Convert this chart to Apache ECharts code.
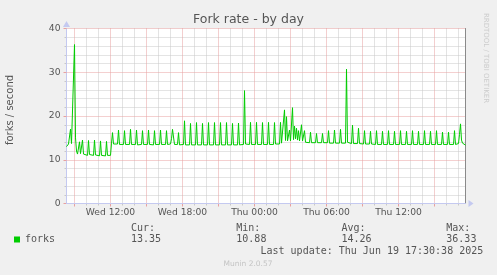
<!DOCTYPE html>
<html>
<head>
<meta charset="utf-8">
<script src="https://cdn.jsdelivr.net/npm/echarts@6/dist/echarts.min.js"></script>
<style>
html,body{margin:0;padding:0;background:#f0f0f0;}
#chart{width:497px;height:275px;}
</style>
</head>
<body>
<div id="chart"></div>
<script>
// Time in minutes since Wed 00:00 (5-minute samples), values in forks/second
const sampleMinutes = [
  500,505,510,515,520,525,530,535,540,545,550,555,560,565,570,575,580,585,595,
  605,610,615,625,635,640,645,655,665,670,675,685,695,700,705,715,720,725,730,735,740,745,
  755,760,765, 785,790,795, 815,820,825, 845,850,855, 875,880,885, 905,910,915,
  935,940,945, 965,970,975, 995,1000,1005, 1020,1025,1030,1035,1040, 1055,1060,1065,
  1085,1090,1095, 1115,1120,1125, 1145,1150,1155, 1175,1180,1185, 1205,1210,1215,
  1235,1240,1245, 1265,1270,1275, 1295,1300,1305, 1325,1330,1335, 1355,1360,1365,
  1385,1390,1395, 1415,1420,1425, 1445,1450,1455, 1475,1480,1485, 1505,1510,1515,
  1535,1540,1545, 1565,1570,1575,
  1580,1585,1590,1595,1600,1605,1610,1615,1620,1625,1630,1635,1640,1645,1650,1655,
  1660,1665,1670,1675,1680,1685,1690,1695,
  1715,1720,1725, 1745,1750,1755, 1775,1780,1785, 1805,1810,1815, 1835,1840,1845,
  1865,1870,1875, 1895,1900,1905, 1925,1930,1935, 1955,1960,1965, 1985,1990,1995,
  2015,2020,2025, 2045,2050,2055, 2075,2080,2085, 2105,2110,2115, 2135,2140,2145,
  2165,2170,2175, 2195,2200,2205, 2225,2230,2235, 2255,2260,2265, 2285,2290,2295,
  2315,2320,2325, 2345,2350,2355, 2375,2380,2385, 2405,2410,2415, 2435,2440,2445,
  2460,2465,2470,2475,2480, 2490,2495
];
const forksPerSecond = [
  13.0,13.1,13.6,13.7,17.0,13.7,13.5,14.0,36.33,15.0,12.0,11.3,11.2,14.1,11.4,11.2,14.5,11.3,11.1,
  11.0,14.4,11.2,11.1,11.0,14.5,11.1,11.0,10.9,14.3,11.0,11.0,10.88,14.2,11.0,11.1,11.0,13.8,16.2,13.6,14.0,13.7,
  13.6,16.8,13.5, 13.5,16.65,13.5, 13.5,16.95,13.5, 13.5,16.8,13.4, 13.5,16.65,13.5, 13.5,16.8,13.5,
  13.4,16.65,13.5, 13.5,16.8,13.5, 13.5,16.65,13.5, 13.6,14.8,16.95,15.2,13.5, 13.5,16.2,13.4,
  13.5,18.9,13.4, 13.4,18.3,13.4, 13.4,18.5,13.4, 13.4,18.3,13.4, 13.4,18.5,13.4,
  13.4,18.5,13.4, 13.4,18.5,13.4, 13.4,18.5,13.4, 13.4,18.3,13.4, 13.4,18.4,13.4,
  13.5,25.8,13.6, 13.5,18.55,13.5, 13.5,18.55,13.5, 13.5,18.5,13.5, 13.5,18.55,13.5,
  13.5,18.5,13.6, 13.6,18.55,13.8,
  14.0,14.2,21.4,14.4,19.85,14.3,14.6,16.8,14.3,14.4,21.9,14.6,17.7,14.8,17.2,14.5,
  16.65,14.3,14.4,18.0,14.3,14.1,16.65,14.0,
  13.9,16.3,13.9, 13.9,16.0,13.9, 13.9,16.0,13.9, 13.9,16.65,13.8, 13.8,16.8,13.8,
  13.8,16.95,13.8, 13.8,30.7,14.0, 13.7,17.9,13.7, 13.7,17.2,13.7, 13.6,16.65,13.6,
  13.6,16.5,13.6, 13.5,16.65,13.5, 13.5,16.5,13.5, 13.5,16.65,13.5, 13.5,16.5,13.5,
  13.5,16.65,13.5, 13.5,16.5,13.5, 13.5,16.65,13.5, 13.5,16.5,13.5, 13.5,16.65,13.5,
  13.5,16.5,13.5, 13.5,16.65,13.5, 13.5,16.3,13.5, 13.5,16.3,13.5, 13.5,16.65,13.5,
  13.7,15.8,18.2,14.5,13.8, 13.4,13.35
];
const startMinute = 500;   // Wed 08:20
const endMinute = 2495;    // Thu 17:35
const labelMinutes = [720, 1080, 1440, 1800, 2160];
const labelTexts = ['Wed 12:00', 'Wed 18:00', 'Thu 00:00', 'Thu 06:00', 'Thu 12:00'];
const majorGridMinutes = [540, 720, 900, 1080, 1260, 1440, 1620, 1800, 1980, 2160, 2340];
const minorGridMinutes = [600, 660, 780, 840, 960, 1020, 1140, 1200, 1320, 1380, 1500, 1560,
  1680, 1740, 1860, 1920, 2040, 2100, 2220, 2280, 2400, 2460];
const yMajorTicks = [0, 10, 20, 30, 40];
const yMinorTicks = [2, 4, 6, 8, 12, 14, 16, 18, 22, 24, 26, 28, 32, 34, 36, 38];
const statHeaders = ['Cur:', 'Min:', 'Avg:', 'Max:'];
const statValues = ['13.35', '10.88', '14.26', '36.33'];
const seriesName = 'forks';
const lastUpdate = 'Last update: Thu Jun 19 17:30:38 2025';

const points = sampleMinutes.map((m, i) => [m, forksPerSecond[i]]);

const SANS = '"DejaVu Sans", sans-serif';
const MONO = '"DejaVu Sans Mono", monospace';
const TXT = '#555555';
const RED = '#e8a0a0';
const GRAY = '#c8c8c8';
const AXIS = '#c4c9f0';

const statX = [131, 236.3, 341.5, 446.3];
const graphics = [
  {type: 'text', x: 248.5, y: 19.5, style: {text: 'Fork rate - by day', font: '12.5px ' + SANS, fill: TXT, align: 'center', verticalAlign: 'middle', textAlign: 'center', textVerticalAlign: 'middle'}},
  {type: 'text', x: 10.1, y: 110, rotation: Math.PI / 2, style: {text: 'forks / second', font: '10px ' + SANS, fill: TXT, align: 'center', verticalAlign: 'middle', textAlign: 'center', textVerticalAlign: 'middle'}},
  {type: 'text', x: 485.7, y: 58, rotation: -Math.PI / 2, style: {text: 'RRDTOOL / TOBI OETIKER', font: '7px ' + SANS, fill: '#cccccc', align: 'center', verticalAlign: 'middle', textAlign: 'center', textVerticalAlign: 'middle'}},
  {type: 'text', x: 260.5, y: 251, style: {text: lastUpdate, font: '10px ' + MONO, fill: TXT, align: 'left', verticalAlign: 'middle', textAlign: 'left', textVerticalAlign: 'middle'}},
  {type: 'text', x: 248, y: 264, style: {text: 'Munin 2.0.57', font: '7.5px ' + SANS, fill: '#c4c4c4', align: 'center', verticalAlign: 'middle', textAlign: 'center', textVerticalAlign: 'middle'}}
];
statHeaders.forEach((h, i) => {
  graphics.push({type: 'text', x: statX[i], y: 228.5, style: {text: h, font: '10px ' + MONO, fill: TXT, align: 'left', verticalAlign: 'middle', textAlign: 'left', textVerticalAlign: 'middle'}});
  graphics.push({type: 'text', x: statX[i], y: 239.5, style: {text: statValues[i], font: '10px ' + MONO, fill: TXT, align: 'left', verticalAlign: 'middle', textAlign: 'left', textVerticalAlign: 'middle'}});
});

const chart = echarts.init(document.getElementById('chart'), null, {renderer: 'canvas'});
chart.setOption({
  animation: false,
  backgroundColor: '#f0f0f0',
  grid: {left: 66.5, top: 28.5, width: 399, height: 175, show: true, backgroundColor: '#ffffff', borderWidth: 0, containLabel: false, outerBoundsMode: 'none'},
  legend: {
    data: [seriesName], left: 14, top: 234.5, icon: 'rect', itemWidth: 6, itemHeight: 6, padding: 0, itemGap: 0,
    selectedMode: false, textStyle: {fontFamily: MONO, fontSize: 10, color: TXT}
  },
  xAxis: [
    {
      type: 'value', min: startMinute, max: endMinute, position: 'bottom', z: 4,
      axisLine: {show: true, lineStyle: {color: AXIS, width: 1}, symbol: ['none', 'triangle'], symbolSize: [7, 5], symbolOffset: [0, 5.5]},
      axisTick: {show: false},
      axisLabel: {
        show: true, customValues: labelMinutes, margin: 5, fontSize: 9.2, fontFamily: SANS, color: TXT,
        formatter: v => labelTexts[labelMinutes.indexOf(v)] || ''
      },
      splitLine: {show: false}
    },
    {
      type: 'value', min: startMinute, max: endMinute, position: 'bottom', z: 2,
      axisLine: {show: false},
      axisTick: {show: true, customValues: majorGridMinutes, length: 3, lineStyle: {color: RED}},
      axisLabel: {show: false},
      splitLine: {show: true, lineStyle: {color: RED, width: 1, type: [1, 1]}}
    },
    {
      type: 'value', min: startMinute, max: endMinute, position: 'bottom', z: 1,
      axisLine: {show: false},
      axisTick: {show: true, customValues: minorGridMinutes, length: 2, lineStyle: {color: GRAY}},
      axisLabel: {show: false},
      splitLine: {show: true, lineStyle: {color: GRAY, width: 1, type: [1, 1]}}
    }
  ],
  yAxis: [
    {
      type: 'value', min: 0, max: 40, interval: 10, position: 'left', z: 3,
      axisLine: {show: true, lineStyle: {color: AXIS, width: 1}, symbol: ['none', 'triangle'], symbolSize: [7, 6], symbolOffset: [0, 4.5]},
      axisTick: {show: true, length: 3, lineStyle: {color: RED}},
      axisLabel: {show: true, margin: 6, fontSize: 9.2, fontFamily: SANS, color: TXT},
      splitLine: {show: true, lineStyle: {color: RED, width: 1, type: [1, 1]}}
    },
    {
      type: 'value', min: 0, max: 40, position: 'left', z: 1,
      axisLine: {show: false},
      axisTick: {show: true, customValues: yMinorTicks, length: 2, lineStyle: {color: GRAY}},
      axisLabel: {show: false},
      splitLine: {show: true, lineStyle: {color: GRAY, width: 1, type: [1, 1]}}
    },
    {
      type: 'value', min: 0, max: 40, position: 'right', z: 3,
      axisLine: {show: true, lineStyle: {color: '#8a8a8a', width: 1}},
      axisTick: {show: false}, axisLabel: {show: false}, splitLine: {show: false}
    }
  ],
  series: [{
    name: seriesName, type: 'line', data: points, xAxisIndex: 0, yAxisIndex: 0,
    showSymbol: false, symbol: 'none', z: 10, silent: true,
    lineStyle: {color: '#00cc00', width: 1}, itemStyle: {color: '#00cc00'}
  }],
  graphic: graphics
});
</script>
</body>
</html>
